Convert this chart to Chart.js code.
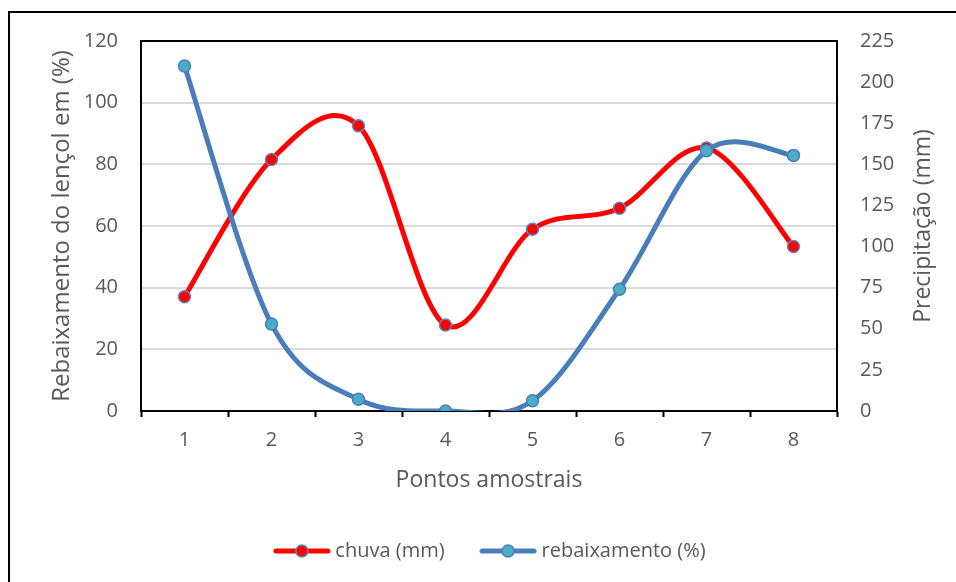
<!DOCTYPE html>
<html>
<head>
<meta charset="utf-8">
<script src="https://cdn.jsdelivr.net/npm/chart.js@4.4.1/dist/chart.umd.min.js"></script>
<style>
  html, body { margin: 0; padding: 0; background: #fff; }
  #wrap { position: relative; width: 956px; height: 582px; }
</style>
</head>
<body>
<div id="wrap"><canvas id="myChart" width="956" height="582"></canvas></div>
<script>
// valores
var pontos = ["1", "2", "3", "4", "5", "6", "7", "8"];
var chuva = [69.5, 152.9, 173.4, 52.3, 110.5, 123.3, 160, 100];
var rebaixamento = [111.9, 28.2, 3.8, 0, 3.3, 39.5, 84.4, 82.9];
var ticksRebaixamento = [0, 20, 40, 60, 80, 100, 120];
var ticksChuva = [0, 25, 50, 75, 100, 125, 150, 175, 200, 225];

var cinza = "#595959";
var fonte = "'Open Sans', sans-serif";
var vermelho = "#ff0000";
var azul = "#4a7ebb";
var azulPonto = "#4bacc6";
var bordaPonto = "#5b87c0";

function iconeLegenda(corLinha, corPonto, corBorda) {
  var c = document.createElement("canvas");
  c.width = 58;
  c.height = 18;
  var g = c.getContext("2d");
  g.strokeStyle = corLinha;
  g.lineWidth = 5;
  g.lineCap = "round";
  g.beginPath();
  g.moveTo(3, 9);
  g.lineTo(55, 9);
  g.stroke();
  g.beginPath();
  g.arc(29, 9, 6, 0, Math.PI * 2);
  g.fillStyle = corPonto;
  g.fill();
  g.lineWidth = 1.5;
  g.strokeStyle = corBorda;
  g.stroke();
  return c;
}

var iconeChuva = iconeLegenda(vermelho, vermelho, bordaPonto);
var iconeRebaixamento = iconeLegenda(azul, azulPonto, azul);

// suavizacao parecida com a do Excel (Catmull-Rom)
var suaviza = {
  id: "suaviza",
  beforeDatasetDraw: function (chart, args) {
    var linha = args.meta.dataset;
    if (linha && typeof linha.updateControlPoints === "function") {
      linha.updateControlPoints(chart.chartArea, "x");
    }
    var pts = args.meta.data;
    pts.forEach(function (p, i) {
      var a = pts[i - 1] || p;
      var b = pts[i + 1] || p;
      p.cp1x = p.x - (b.x - a.x) / 6;
      p.cp1y = p.y - (b.y - a.y) / 6;
      p.cp2x = p.x + (b.x - a.x) / 6;
      p.cp2y = p.y + (b.y - a.y) / 6;
    });
  }
};

var moldura = {
  id: "moldura",
  beforeDraw: function (chart) {
    var ctx = chart.ctx;
    ctx.save();
    ctx.fillStyle = "#fff";
    ctx.fillRect(0, 0, chart.width, chart.height);
    ctx.fillStyle = "#000";
    ctx.fillRect(8, 11, 2, chart.height);
    ctx.fillRect(8, 11, chart.width, 2);
    ctx.restore();
  },
  beforeDatasetsDraw: function (chart) {
    var a = chart.chartArea;
    var ctx = chart.ctx;
    ctx.save();
    ctx.strokeStyle = "#000";
    ctx.lineWidth = 2;
    ctx.strokeRect(a.left, a.top, a.right - a.left, a.bottom - a.top);
    ctx.restore();
  },
  afterDraw: function (chart) {
    var ctx = chart.ctx;
    ctx.save();
    ctx.translate(923, (chart.chartArea.top + chart.chartArea.bottom) / 2);
    ctx.rotate(-Math.PI / 2);
    ctx.font = "23px " + fonte;
    ctx.fillStyle = cinza;
    ctx.textAlign = "center";
    ctx.textBaseline = "middle";
    ctx.fillText(chart.options.scales.y1.title.text, 0, 0);
    ctx.restore();
  }
};

var ctx = document.getElementById("myChart");

new Chart(ctx, {
  type: "line",
  data: {
    labels: pontos,
    datasets: [
      {
        label: "rebaixamento (%)",
        data: rebaixamento,
        yAxisID: "y",
        borderColor: azul,
        borderWidth: 5,
        tension: 0.4,
        pointRadius: 6,
        pointBorderWidth: 1.5,
        pointBackgroundColor: azulPonto,
        pointBorderColor: azul,
        fill: false,
      },
      {
        label: "chuva (mm)",
        data: chuva,
        yAxisID: "y1",
        borderColor: vermelho,
        borderWidth: 5,
        tension: 0.4,
        pointRadius: 6,
        pointBorderWidth: 1.5,
        pointBackgroundColor: vermelho,
        pointBorderColor: bordaPonto,
        fill: false,
      },
    ],
  },
  options: {
    responsive: false,
    animation: false,
    devicePixelRatio: 1,
    layout: { padding: { top: 41, left: 28, right: 0, bottom: 11 } },
    plugins: {
      tooltip: { enabled: false },
      legend: {
        position: "bottom",
        labels: {
          usePointStyle: true,
          pointStyleWidth: 47,
          padding: 40,
          color: cinza,
          font: { family: fonte, size: 20 },
          generateLabels: function () {
            return [
              { text: "chuva (mm)", pointStyle: iconeChuva, fontColor: cinza, datasetIndex: 1, hidden: false, lineWidth: 0 },
              { text: "rebaixamento (%)", pointStyle: iconeRebaixamento, fontColor: cinza, datasetIndex: 0, hidden: false, lineWidth: 0 },
            ];
          },
        },
      },
    },
    scales: {
      x: {
        offset: true,
        grid: { offset: true, drawOnChartArea: false, drawTicks: true, tickLength: 6, tickWidth: 2, tickColor: "#000" },
        border: { display: true, color: "#000", width: 2 },
        ticks: { color: cinza, font: { family: fonte, size: 20 }, padding: 11 },
        title: {
          display: true,
          text: "Pontos amostrais",
          color: cinza,
          font: { family: fonte, size: 23 },
          padding: { top: 0, bottom: 7 },
        },
        afterFit: function (s) { s.height = 90; },
      },
      y: {
        position: "left",
        min: 0,
        max: 120,
        afterBuildTicks: function (s) {
          s.ticks = ticksRebaixamento.map(function (v) { return { value: v }; });
        },
        grid: { color: "#d9d9d9", lineWidth: 2, drawTicks: false },
        border: { display: true, color: "#000", width: 2 },
        ticks: { color: cinza, font: { family: fonte, size: 20 }, padding: 23 },
        title: {
          display: true,
          text: "Rebaixamento do lençol em (%)",
          color: cinza,
          font: { family: fonte, size: 24 },
          padding: { top: 20, bottom: 0 },
        },
        afterFit: function (s) { s.width = 113; },
      },
      y1: {
        position: "right",
        min: 0,
        max: 225,
        afterBuildTicks: function (s) {
          s.ticks = ticksChuva.map(function (v) { return { value: v }; });
        },
        grid: { drawOnChartArea: false, drawTicks: false },
        border: { display: true, color: "#000", width: 2 },
        ticks: { color: cinza, font: { family: fonte, size: 20 }, padding: 23 },
        title: { display: false, text: "Precipitação (mm)" },
        afterFit: function (s) { s.width = 119; },
      },
    },
  },
  plugins: [moldura, suaviza],
});
</script>
</body>
</html>
